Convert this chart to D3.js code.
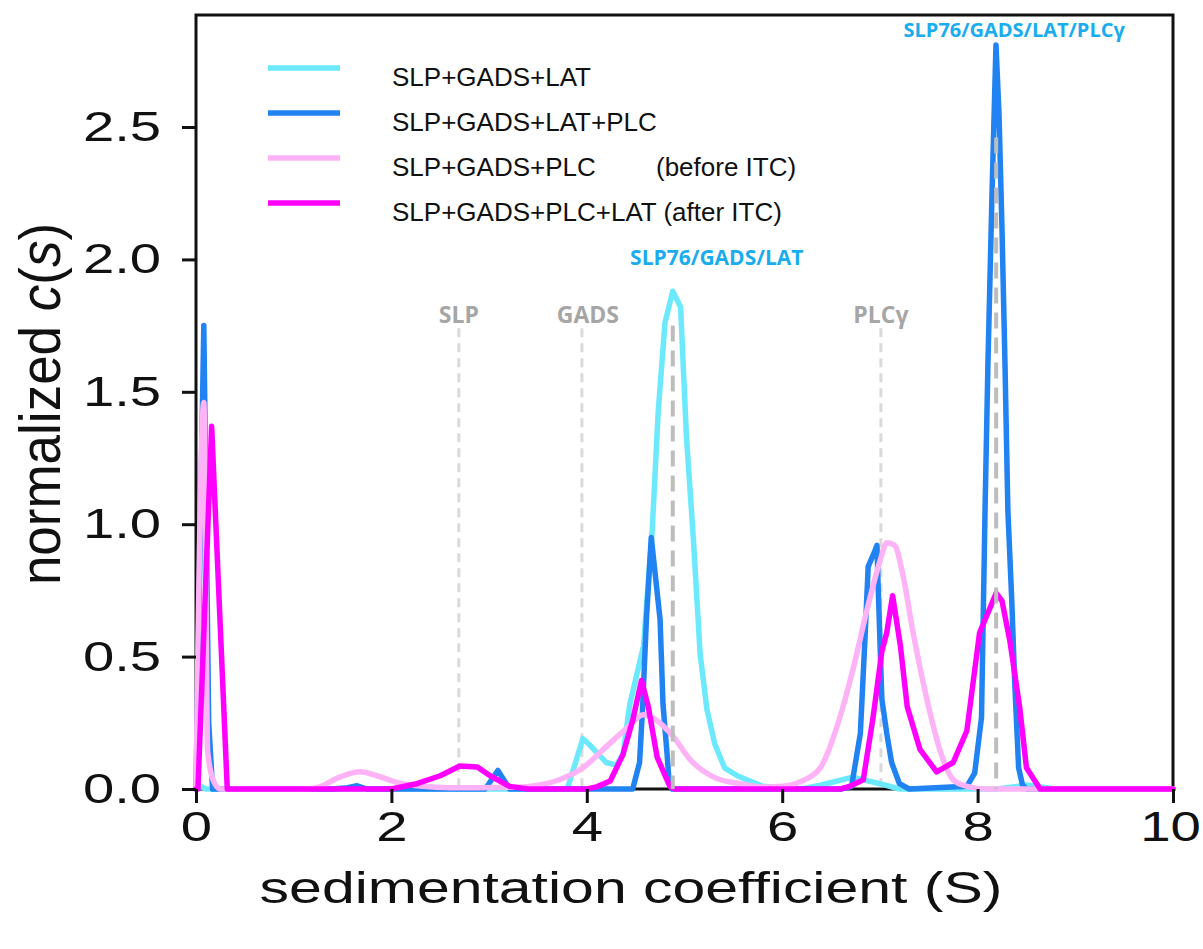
<!DOCTYPE html>
<html>
<head>
<meta charset="utf-8">
<script src="https://cdn.jsdelivr.net/npm/d3@7"></script>
<style>
  body { margin: 0; background: #fff; }
  svg { display: block; }
  .axis path, .axis line { stroke: #111; stroke-width: 3; }
  .axis text { font-family: "Liberation Sans", Arial, sans-serif; fill: #111; }
</style>
</head>
<body>
<svg id="chart" width="1203" height="949"></svg>
<script>
// --- data (s in Svedberg, c(s) normalized) ---
var slpGadsLatS = [0, 0.05, 0.1, 3.5, 3.8, 3.96, 4.02, 4.2, 4.3, 4.37, 4.44, 4.58, 4.67, 4.73, 4.80, 4.88, 4.96, 5.02, 5.09, 5.16, 5.23, 5.31, 5.41, 5.54, 5.8, 6.2, 6.4, 6.72, 7.0, 7.2, 8.2, 8.5, 8.8, 10];
var slpGadsLatC = [0, 0.01, 0, 0, 0, 0.19, 0.17, 0.10, 0.09, 0.13, 0.32, 0.54, 0.98, 1.42, 1.76, 1.88, 1.82, 1.33, 0.95, 0.51, 0.30, 0.17, 0.08, 0.05, 0.01, 0, 0.015, 0.045, 0.02, 0, 0, 0.015, 0, 0];

var slpGadsLatPlcS = [0, 0.08, 0.13, 0.17, 1.4, 1.55, 1.65, 1.75, 2.9, 2.96, 3.09, 3.21, 4.4, 4.47, 4.54, 4.57, 4.61, 4.66, 4.75, 4.78, 4.82, 4.84, 4.87, 6.6, 6.71, 6.80, 6.85, 6.88, 6.95, 6.97, 6.98, 7.02, 7.07, 7.12, 7.2, 7.3, 7.89, 7.97, 8.04, 8.076, 8.106, 8.147, 8.188, 8.219, 8.25, 8.28, 8.31, 8.35, 8.38, 8.42, 8.46, 8.5, 10];
var slpGadsLatPlcC = [0, 1.75, 0.25, 0, 0, 0.005, 0.012, 0, 0, 0, 0.07, 0, 0, 0, 0.10, 0.30, 0.64, 0.95, 0.64, 0.32, 0.14, 0.04, 0, 0, 0.01, 0.21, 0.59, 0.84, 0.90, 0.92, 0.79, 0.34, 0.21, 0.10, 0.02, 0, 0.01, 0.06, 0.27, 1.05, 1.61, 2.24, 2.81, 2.55, 2.11, 1.61, 1.05, 0.71, 0.40, 0.08, 0.015, 0, 0];

var slpGadsPlcS = [0, 0.08, 0.12, 0.18, 0.25, 1.1, 1.24, 1.47, 1.68, 1.85, 2.06, 2.32, 2.6, 3.35, 3.52, 3.72, 3.96, 4.2, 4.41, 4.58, 4.71, 4.88, 5.06, 5.3, 5.57, 5.8, 6.0, 6.2, 6.39, 6.59, 6.73, 6.87, 7.0, 7.07, 7.15, 7.24, 7.34, 7.48, 7.62, 7.75, 7.89, 8.1, 10];
var slpGadsPlcC = [0, 1.46, 0.14, 0.03, 0, 0, 0.005, 0.045, 0.065, 0.05, 0.025, 0.01, 0.005, 0.008, 0.015, 0.035, 0.08, 0.16, 0.23, 0.28, 0.26, 0.20, 0.11, 0.045, 0.02, 0.008, 0.01, 0.03, 0.08, 0.27, 0.46, 0.68, 0.86, 0.93, 0.92, 0.80, 0.59, 0.34, 0.14, 0.035, 0.01, 0, 0];

var slpGadsPlcLatS = [0, 0.02, 0.16, 0.32, 2.0, 2.26, 2.5, 2.7, 2.88, 3.01, 3.21, 3.4, 4.0, 4.1, 4.24, 4.37, 4.47, 4.56, 4.63, 4.72, 4.85, 4.9, 6.6, 6.69, 6.83, 6.93, 7.02, 7.07, 7.13, 7.21, 7.28, 7.41, 7.58, 7.75, 7.89, 8.02, 8.10, 8.19, 8.25, 8.33, 8.43, 8.5, 8.64, 10];
var slpGadsPlcLatC = [0, 0, 1.37, 0, 0, 0.02, 0.05, 0.087, 0.083, 0.05, 0.01, 0, 0, 0.008, 0.03, 0.13, 0.26, 0.41, 0.31, 0.12, 0.01, 0, 0, 0.01, 0.035, 0.27, 0.52, 0.59, 0.73, 0.54, 0.31, 0.15, 0.065, 0.10, 0.22, 0.59, 0.66, 0.74, 0.71, 0.56, 0.31, 0.08, 0, 0];

var legendLabels = ['SLP+GADS+LAT', 'SLP+GADS+LAT+PLC', 'SLP+GADS+PLC', 'SLP+GADS+PLC+LAT (after ITC)'];
var seriesColors = ['#6ce9fd', '#2182f2', '#ffb3f7', '#ff00ff'];

// single components (light dashes) and complexes (dark dashes)
var componentNames = ['SLP', 'GADS', 'PLCγ'];
var componentS = [2.69, 3.95, 7.01];
var complexNames = ['SLP76/GADS/LAT', 'SLP76/GADS/LAT/PLCγ'];
var complexS = [4.88, 8.19];
var complexTop = [1.75, 2.46];

var xTicks = [0, 2, 4, 6, 8, 10];
var yTicks = [0, 0.5, 1.0, 1.5, 2.0, 2.5];

// --- layout ---
var margin = {top: 15, right: 30, bottom: 160, left: 196},
  width = 1173 - margin.left,
  height = 789 - margin.top;

var svg = d3.select('#chart');
var g = svg.append('g')
  .attr('transform', 'translate(' + margin.left + ',' + margin.top + ')');

var x = d3.scaleLinear().domain([0, 10]).range([0, width]);
var y = d3.scaleLinear().domain([0, 2.923]).range([height, 0]);

var stretch = 1.34;

// frame
g.append('rect')
  .attr('width', width).attr('height', height)
  .attr('fill', 'none').attr('stroke', '#111').attr('stroke-width', 3);

// component markers
g.selectAll('.comp-line')
  .data(componentS)
  .enter().append('line')
  .attr('x1', function(d) { return x(d); })
  .attr('x2', function(d) { return x(d); })
  .attr('y1', y(1.74)).attr('y2', height)
  .attr('stroke', '#dadada').attr('stroke-width', 3)
  .attr('stroke-dasharray', '9,6');

g.selectAll('.comp-label')
  .data(componentNames)
  .enter().append('text')
  .attr('x', function(d, i) { return x(componentS[i]) + (i == 1 ? 6 : 0); })
  .attr('y', y(1.76))
  .attr('text-anchor', 'middle')
  .style('font-family', '"Open Sans", sans-serif')
  .style('font-weight', 'bold')
  .style('font-size', '23px')
  .attr('fill', '#a6a6a6')
  .text(function(d) { return d; });

// curves
var line = d3.line()
  .x(function(d) { return x(d[0]); })
  .y(function(d) { return y(d[1]); });
var smooth = d3.line()
  .curve(d3.curveMonotoneX)
  .x(function(d) { return x(d[0]); })
  .y(function(d) { return y(d[1]); });

var series = [
  {s: slpGadsLatS, c: slpGadsLatC, color: seriesColors[0], gen: line},
  {s: slpGadsLatPlcS, c: slpGadsLatPlcC, color: seriesColors[1], gen: line},
  {s: slpGadsPlcS, c: slpGadsPlcC, color: seriesColors[2], gen: smooth},
  {s: slpGadsPlcLatS, c: slpGadsPlcLatC, color: seriesColors[3], gen: line}
];

series.forEach(function(sr) {
  var pts = sr.s.map(function(s, i) { return [s, sr.c[i]]; });
  g.append('path')
    .datum(pts)
    .attr('d', sr.gen)
    .attr('fill', 'none')
    .attr('stroke', sr.color)
    .attr('stroke-width', 5.5)
    .attr('stroke-linejoin', 'round')
    .attr('stroke-linecap', 'round');
});

// complex markers
g.selectAll('.cplx-line')
  .data(complexS)
  .enter().append('line')
  .attr('x1', function(d) { return x(d); })
  .attr('x2', function(d) { return x(d); })
  .attr('y1', function(d, i) { return y(complexTop[i]); })
  .attr('y2', height)
  .attr('stroke', '#bdbdbd').attr('stroke-width', 4)
  .attr('stroke-dasharray', '16,9');

g.selectAll('.cplx-label')
  .data(complexNames)
  .enter().append('text')
  .attr('x', function(d, i) { return i == 0 ? x(complexS[i]) + 44 : x(complexS[i]) + 18; })
  .attr('y', function(d, i) { return i == 0 ? y(1.98) : y(2.84); })
  .attr('text-anchor', 'middle')
  .style('font-family', '"Open Sans", sans-serif')
  .style('font-weight', 'bold')
  .style('font-size', function(d, i) { return i == 0 ? '21px' : '20px'; })
  .attr('fill', '#1aacee')
  .text(function(d) { return d; });

// axes
var xAxis = d3.axisBottom(x).tickValues(xTicks).tickSize(14).tickPadding(8)
  .tickFormat(d3.format('d'));
var yAxis = d3.axisLeft(y).tickValues(yTicks).tickSize(14).tickPadding(12)
  .tickFormat(d3.format('.1f'));

var gx = g.append('g')
  .attr('class', 'x axis')
  .attr('transform', 'translate(0,' + height + ')')
  .call(xAxis);
gx.select('.domain').remove();
gx.selectAll('text')
  .style('font-size', '42px')
  .attr('transform', function(d) {
    return d == 10 ? 'translate(-3,0) scale(1.3,1)' : 'scale(' + stretch + ',1)';
  });

var gy = g.append('g')
  .attr('class', 'y axis')
  .call(yAxis);
gy.select('.domain').remove();
gy.selectAll('text')
  .style('font-size', '42px')
  .attr('transform', 'scale(' + stretch + ',1)');

// axis titles
svg.append('text')
  .attr('transform', 'translate(631,903) scale(' + stretch + ',1)')
  .attr('text-anchor', 'middle')
  .style('font-family', '"Liberation Sans", Arial, sans-serif')
  .style('font-size', '44px')
  .attr('fill', '#111')
  .text('sedimentation coefficient (S)');

var ylab = svg.append('text')
  .attr('transform', 'translate(60,404) scale(1.09,1) rotate(-90)')
  .attr('text-anchor', 'middle')
  .style('font-family', '"Liberation Sans", Arial, sans-serif')
  .style('font-size', '53px')
  .attr('fill', '#111');
ylab.append('tspan').text('normalized ');
ylab.append('tspan').style('font-style', 'italic').text('c');
ylab.append('tspan').text('(');
ylab.append('tspan').style('font-style', 'italic').text('s');
ylab.append('tspan').text(')');

// legend
var legend = svg.append('g').attr('class', 'legend');
legendLabels.forEach(function(lab, i) {
  var ly = 68 + i * 45;
  legend.append('line')
    .attr('x1', 268).attr('x2', 340)
    .attr('y1', ly).attr('y2', ly)
    .attr('stroke', seriesColors[i]).attr('stroke-width', 5.5);
  legend.append('text')
    .attr('x', 392).attr('y', ly + 18)
    .style('font-family', '"Liberation Sans", Arial, sans-serif')
    .style('font-size', '26px')
    .attr('fill', '#111')
    .text(lab);
});
legend.append('text')
  .attr('x', 656).attr('y', 68 + 2 * 45 + 18)
  .style('font-family', '"Liberation Sans", Arial, sans-serif')
  .style('font-size', '26px')
  .attr('fill', '#111')
  .text('(before ITC)');
</script>
</body>
</html>
